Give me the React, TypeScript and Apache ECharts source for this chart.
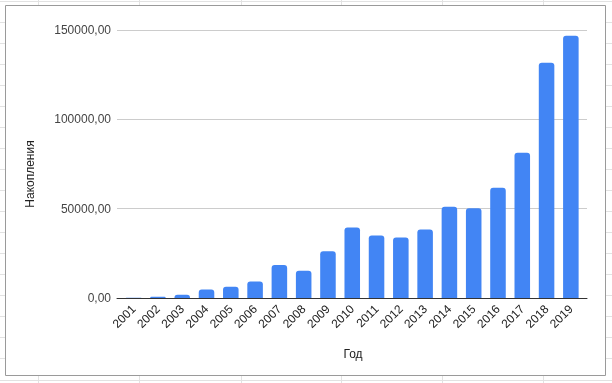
import React, { useEffect, useRef } from "react";
import * as echarts from "echarts";

const years = ["2001","2002","2003","2004","2005","2006","2007","2008","2009","2010","2011","2012","2013","2014","2015","2016","2017","2018","2019"];
const savings = [200, 700, 1800, 4800, 6300, 9200, 18500, 15300, 26100, 39400, 35000, 33900, 38300, 51100, 50200, 61700, 81300, 131700, 146800];
const yTicks = [0, 50000, 100000, 150000];
const xTitle = "Год";
const yTitle = "Накопления";

const sheetCols = [38, 139, 241, 341, 442, 543];
const sheetRows = [1, 22, 43, 64, 85, 106, 127, 148, 169, 190, 211, 232, 253, 274, 295, 316, 337, 358, 380];

export default function App() {
  const ref = useRef<HTMLDivElement>(null);
  useEffect(() => {
    document.body.style.margin = "0";
    const chart = echarts.init(ref.current!, undefined, { renderer: "svg" });
    const font = "Liberation Sans, Arial, sans-serif";
    const fmt = (v: number) => v.toFixed(2).replace(".", ",");
    const bg: any[] = [];
    sheetCols.forEach((x) =>
      bg.push({ type: "line", z: -10, shape: { x1: x + 0.5, y1: 0, x2: x + 0.5, y2: 383 }, style: { stroke: "#e2e2e2", lineWidth: 1 } })
    );
    sheetRows.forEach((y) =>
      bg.push({ type: "line", z: -10, shape: { x1: 0, y1: y + 0.5, x2: 612, y2: y + 0.5 }, style: { stroke: "#e2e2e2", lineWidth: 1 } })
    );
    bg.push({ type: "rect", z: -5, shape: { x: 5.5, y: 5.5, width: 600, height: 370 }, style: { fill: "#ffffff", stroke: "#9a9a9a", lineWidth: 1 } });
    bg.push({ type: "text", z: 10, x: 353, y: 354, style: { text: xTitle, font: `12px ${font}`, fill: "#222222", align: "center", verticalAlign: "middle" } });
    bg.push({ type: "text", z: 10, x: 29.5, y: 174, rotation: Math.PI / 2, style: { text: yTitle, font: `12px ${font}`, fill: "#222222", align: "center", verticalAlign: "middle" } });

    chart.setOption({
      animation: false,
      textStyle: { fontFamily: font },
      graphic: { elements: bg },
      grid: [
        { left: 117, right: 25, top: 30, bottom: 85 },
        { left: 121.5, right: 29, top: 30, bottom: 85 },
      ],
      xAxis: [
        {
          type: "value",
          gridIndex: 0,
          min: 0,
          max: 1,
          axisLine: { show: true, onZero: true, lineStyle: { color: "#333333", width: 1 } },
          axisTick: { show: false },
          axisLabel: { show: false },
          splitLine: { show: false },
        },
        {
          type: "category",
          gridIndex: 1,
          data: years,
          axisLine: { show: false },
          axisTick: { show: false },
          axisLabel: { rotate: 45, fontSize: 12, color: "#222222", margin: 9, interval: 0, padding: [9, 0, 0, 0], fontFamily: font },
        },
      ],
      yAxis: [
        {
          type: "value",
          gridIndex: 0,
          min: 0,
          max: 150000,
          interval: 50000,
          axisLine: { show: false },
          axisTick: { show: false },
          axisLabel: { fontSize: 12, color: "#444444", margin: 6, formatter: (v: number) => (yTicks.includes(v) ? fmt(v) : "") },
          splitLine: { lineStyle: { color: "#cccccc", width: 1 } },
        },
        {
          type: "value",
          gridIndex: 1,
          min: 0,
          max: 150000,
          interval: 50000,
          axisLine: { show: false },
          axisTick: { show: false },
          axisLabel: { show: false },
          splitLine: { show: false },
        },
      ],
      series: [
        {
          type: "bar",
          xAxisIndex: 1,
          yAxisIndex: 1,
          data: savings,
          barWidth: "64%",
          itemStyle: { color: "#4285f4", borderRadius: [3, 3, 0, 0] },
          z: 1,
        },
      ],
    });
    return () => chart.dispose();
  }, []);
  return <div ref={ref} style={{ position: "fixed", left: 0, top: 0, width: 612, height: 383 }} />;
}
